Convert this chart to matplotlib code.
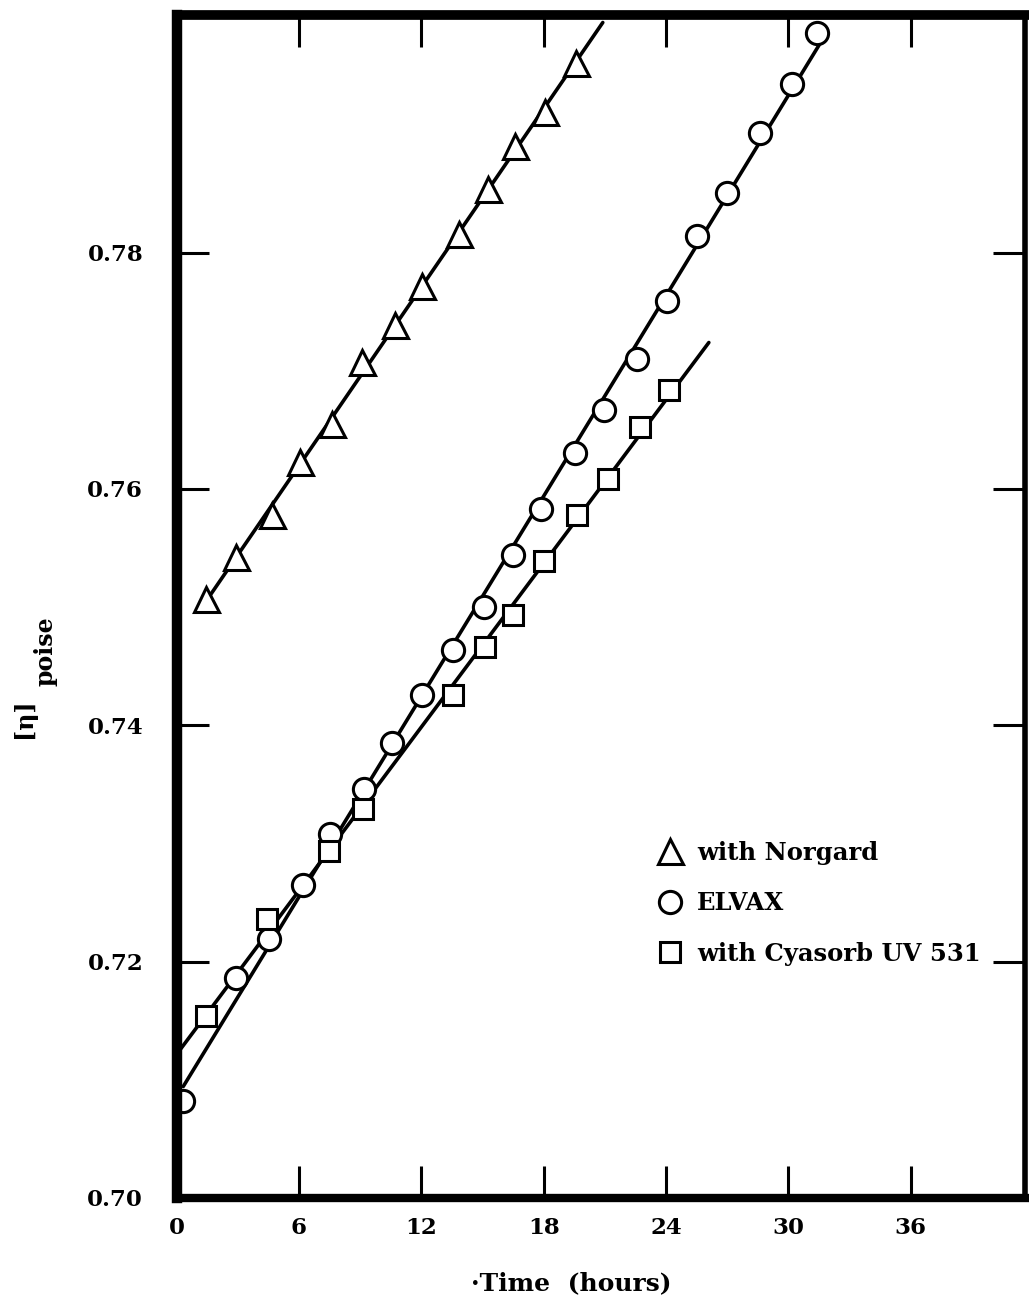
import numpy as np
import matplotlib
matplotlib.use("Agg")
import matplotlib.pyplot as plt
from matplotlib.lines import Line2D

plt.rcParams['font.family'] = ['DejaVu Serif', 'Liberation Serif']
plt.rcParams['font.weight'] = 'bold'

# ---- data ----
norgard_t = [1.44, 2.94, 4.66, 6.04, 7.61, 9.09, 10.71, 12.06, 13.86, 15.25, 16.61, 18.05, 19.58]
norgard_v = [0.7507, 0.7542, 0.7578, 0.7623, 0.7655, 0.7707, 0.7739, 0.7772, 0.7816, 0.7854, 0.7890, 0.7919, 0.7960]

elvax_t = [0.33, 2.92, 4.55, 6.19, 7.55, 9.21, 10.55, 12.02, 13.54, 15.07, 16.48, 17.87, 19.53,
           20.96, 22.56, 24.07, 25.50, 26.97, 28.60, 30.19, 31.41]
elvax_v = [0.7082, 0.7186, 0.7219, 0.7265, 0.7308, 0.7346, 0.7385, 0.7426, 0.7464, 0.7500, 0.7544,
           0.7583, 0.7630, 0.7667, 0.7710, 0.7759, 0.7814, 0.7850, 0.7901, 0.7943, 0.7986]

cyasorb_t = [1.43, 4.42, 7.49, 9.16, 13.54, 15.14, 16.51, 18.04, 19.65, 21.14, 22.72, 24.14]
cyasorb_v = [0.7154, 0.7236, 0.7294, 0.7329, 0.7426, 0.7466, 0.7493, 0.7539, 0.7578, 0.7608, 0.7652, 0.7684]

# extent of the drawn straight-line fits (hours)
norgard_fit_range = [1.44, 20.9]
elvax_fit_range = [0.33, 31.5]
cyasorb_fit_range = [0.0, 26.1]

x_ticks = [0, 6, 12, 18, 24, 30, 36]
y_ticks = [0.70, 0.72, 0.74, 0.76, 0.78]
y_tick_labels = ["0.70", "0.72", "0.74", "0.76", "0.78"]

labels = ["with Norgard", "ELVAX", "with Cyasorb UV 531"]

W, H = 1029, 1301
fig = plt.figure(figsize=(W / 100, H / 100), dpi=100)
ax = fig.add_axes([176.5 / W, 1 - 1198 / H, (1025 - 176.5) / W, (1198 - 15) / H])

ax.set_xlim(0, 41.6)
ax.set_ylim(0.70, 0.8001)

lw = 2.6
mew = 2.2
series = [
    (norgard_t, norgard_v, norgard_fit_range, '^', 18),
    (elvax_t, elvax_v, elvax_fit_range, 'o', 16),
    (cyasorb_t, cyasorb_v, cyasorb_fit_range, 's', 15),
]
for t, v, rng, mk, ms in series:
    k, b = np.polyfit(t, v, 1)
    xr = np.array(rng)
    ax.plot(xr, k * xr + b, color='black', lw=lw, zorder=2, solid_capstyle='round')
    ax.plot(t, v, linestyle='none', marker=mk, markersize=ms, markerfacecolor='white',
            markeredgecolor='black', markeredgewidth=mew, zorder=3)

# spines
ax.spines['left'].set_linewidth(7.5)
ax.spines['top'].set_linewidth(7)
ax.spines['bottom'].set_linewidth(6)
ax.spines['right'].set_linewidth(4)
for s in ax.spines.values():
    s.set_zorder(5)

ax.set_xticks(x_ticks)
ax.set_xticklabels([str(x) for x in x_ticks], fontsize=16.5, fontweight='bold')
ax.set_yticks(y_ticks)
ax.set_yticklabels(y_tick_labels, fontsize=16.5, fontweight='bold')
ax.tick_params(axis='both', direction='in', length=23, width=2.2, top=True, right=True)
ax.tick_params(axis='x', pad=14)
ax.tick_params(axis='y', pad=24)

# axis labels
fig.text(571 / W, 1 - 1283 / H, "\u00b7Time  (hours)", ha='center', va='center',
         fontsize=18, fontweight='bold')
fig.text(24 / W, 1 - 718 / H, "[\u03b7]", rotation=90, ha='center', va='center',
         fontsize=17, fontweight='bold')
fig.text(45 / W, 1 - 651 / H, "poise", rotation=90, ha='center', va='center',
         fontsize=17, fontweight='bold')

# legend
handles = [
    Line2D([], [], linestyle='none', marker='^', markersize=18, markerfacecolor='white',
           markeredgecolor='black', markeredgewidth=mew),
    Line2D([], [], linestyle='none', marker='o', markersize=16, markerfacecolor='white',
           markeredgecolor='black', markeredgewidth=mew),
    Line2D([], [], linestyle='none', marker='s', markersize=15, markerfacecolor='white',
           markeredgecolor='black', markeredgewidth=mew),
]
leg = ax.legend(handles, labels, loc='upper left', bbox_to_anchor=(658 / W, 1 - 841 / H),
                bbox_transform=fig.transFigure, frameon=False,
                handlelength=1.0, handletextpad=0.6, labelspacing=1.08, borderpad=0,
                borderaxespad=0, prop={'weight': 'bold', 'size': 17.5})

fig.savefig("out.png", dpi=100)
